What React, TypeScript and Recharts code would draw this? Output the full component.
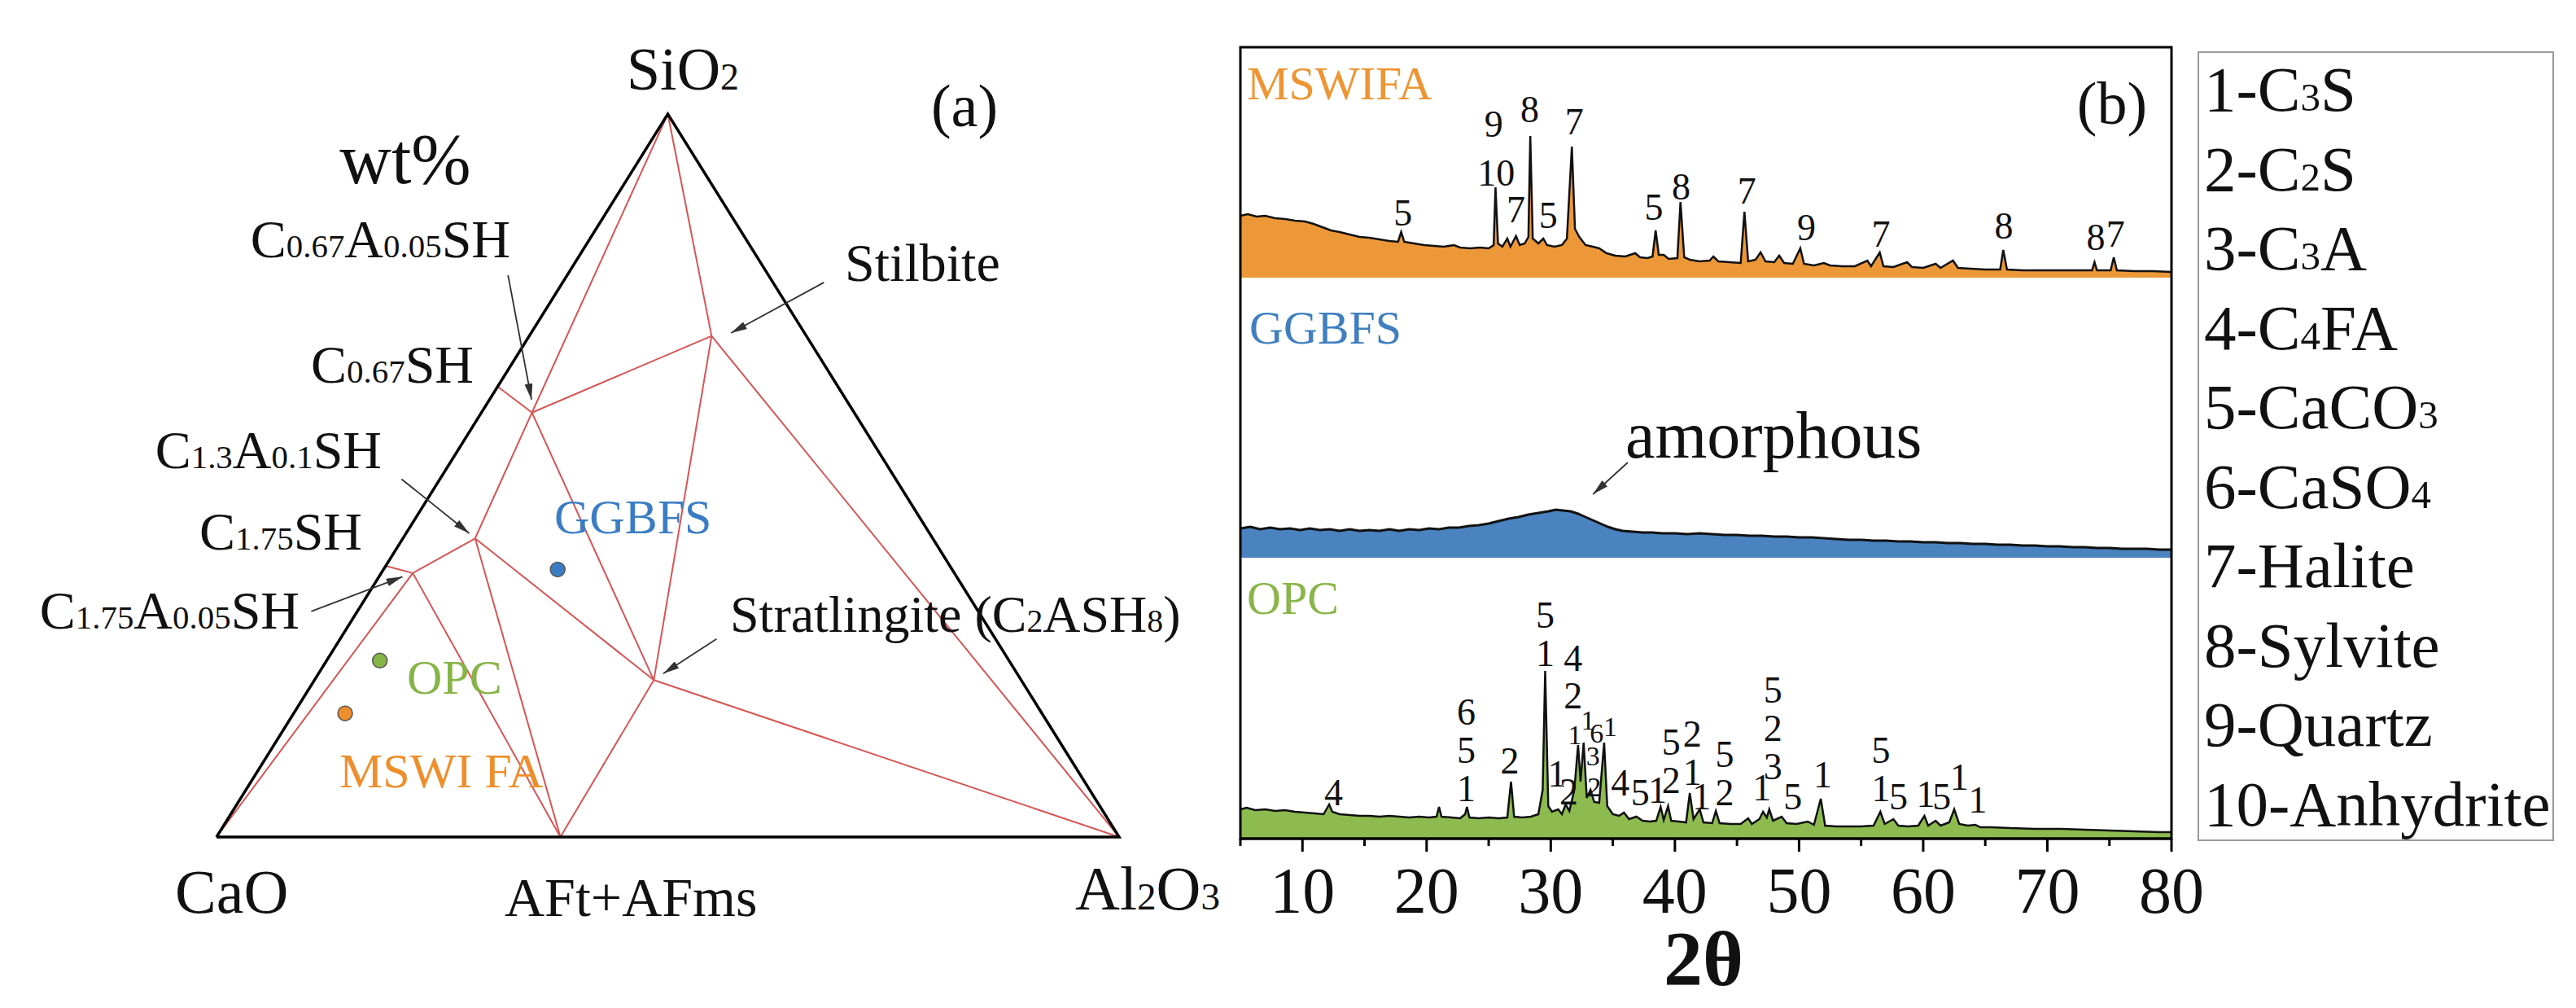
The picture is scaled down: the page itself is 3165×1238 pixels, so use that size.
import React from 'react';
import { ComposedChart, ScatterChart, Scatter, Area, Line, XAxis, YAxis } from 'recharts';

const SERIF = '"Liberation Serif", "Times New Roman", serif';

// ---------------- (a) ternary CaO - SiO2 - Al2O3 (mass fractions) ----------------
// c = CaO, s = SiO2, a = Al2O3
const CORNERS = [
  { id: 'CaO', c: 1, s: 0, a: 0 },
  { id: 'SiO2', c: 0, s: 1, a: 0 },
  { id: 'Al2O3', c: 0, s: 0, a: 1 },
];

const PHASES = [
  { id: 'Stilbite', c: 0.105, s: 0.693, a: 0.202 },
  { id: 'C0.67A0.05SH', c: 0.357, s: 0.587, a: 0.056 },
  { id: 'C0.67SH', c: 0.377, s: 0.623, a: 0 },
  { id: 'C1.3A0.1SH', c: 0.507, s: 0.413, a: 0.08 },
  { id: 'C1.75SH', c: 0.625, s: 0.375, a: 0 },
  { id: 'C1.75A0.05SH', c: 0.6, s: 0.365, a: 0.035 },
  { id: 'Stratlingite', c: 0.407, s: 0.217, a: 0.376 },
  { id: 'AFt+AFms', c: 0.619, s: 0, a: 0.381 },
];

// tie lines between phases (red)
const TIE_LINES: [string, string][] = [
  ['SiO2', 'C0.67A0.05SH'],
  ['SiO2', 'Stilbite'],
  ['C0.67SH', 'C0.67A0.05SH'],
  ['C0.67A0.05SH', 'Stilbite'],
  ['C0.67A0.05SH', 'C1.3A0.1SH'],
  ['C0.67A0.05SH', 'Stratlingite'],
  ['Stilbite', 'Stratlingite'],
  ['Stilbite', 'Al2O3'],
  ['Stratlingite', 'Al2O3'],
  ['Stratlingite', 'AFt+AFms'],
  ['C1.3A0.1SH', 'Stratlingite'],
  ['C1.3A0.1SH', 'AFt+AFms'],
  ['C1.3A0.1SH', 'C1.75A0.05SH'],
  ['C1.75SH', 'C1.75A0.05SH'],
  ['C1.75A0.05SH', 'AFt+AFms'],
  ['C1.75A0.05SH', 'CaO'],
];

const MATERIALS = [
  { id: 'GGBFS', c: 0.437, s: 0.37, a: 0.193 },
  { id: 'OPC', c: 0.697, s: 0.244, a: 0.059 },
  { id: 'MSWI FA', c: 0.772, s: 0.171, a: 0.057 },
];
const MATERIAL_COLORS: Record<string, string> = { GGBFS: '#3b7dc4', OPC: '#86b447', 'MSWI FA': '#ee8e2c' };

// leader arrows, already in diagram coordinates (x = Al + Si/2, y = Si): [tail, tip]
const TERNARY_ARROWS: [number, number][][] = [
  [[0.323, 0.777], [0.349, 0.605]],
  [[0.673, 0.767], [0.57, 0.697]],
  [[0.205, 0.495], [0.28, 0.42]],
  [[0.105, 0.312], [0.206, 0.36]],
  [[0.554, 0.274], [0.495, 0.226]],
];

// ---------------- (b) XRD patterns, [2theta, intensity a.u.] ----------------
const MSWIFA_XRD: [number, number][] = [
  [5.0, 76], [5.6, 78], [6.3, 75], [7.0, 76], [7.8, 73], [8.6, 72], [9.4, 70], [10.2, 69], [10.9, 66],
  [11.6, 62], [12.3, 58], [13.0, 56], [13.8, 53], [14.6, 50], [15.4, 49], [16.2, 47], [17.0, 45], [17.7, 44],
  [17.95, 56], [18.2, 44], [19.0, 42], [19.8, 40], [20.6, 39], [21.4, 38], [22.2, 40], [22.7, 37], [23.5, 36],
  [24.3, 37], [25.0, 36], [25.4, 40], [25.55, 111], [25.75, 42], [26.1, 38], [26.5, 48], [26.75, 38],
  [27.2, 51], [27.5, 40], [27.9, 42], [28.2, 50], [28.35, 174], [28.55, 48], [29.0, 42], [29.4, 48],
  [29.7, 40], [30.3, 38], [30.9, 40], [31.3, 48], [31.7, 161], [31.95, 60], [32.3, 50], [32.8, 40],
  [33.4, 38], [33.9, 36], [34.5, 30], [35.2, 27], [36.0, 26], [36.8, 30], [37.2, 25], [37.8, 24], [38.2, 26],
  [38.45, 58], [38.7, 28], [39.1, 28], [39.5, 23], [40.2, 24], [40.45, 93], [40.75, 25], [41.2, 22],
  [42.0, 20], [42.8, 21], [43.1, 26], [43.5, 20], [44.4, 19], [45.3, 18], [45.6, 81], [45.9, 20], [46.5, 22],
  [46.9, 31], [47.3, 20], [48.0, 19], [48.4, 27], [48.8, 18], [49.5, 17], [50.1, 36], [50.4, 17], [51.2, 15],
  [52.0, 18], [52.5, 15], [53.5, 14], [54.5, 14], [55.5, 21], [55.8, 14], [56.5, 31], [56.8, 14], [57.6, 13],
  [58.7, 19], [59.1, 13], [60.0, 12], [61.0, 17], [61.4, 12], [62.4, 21], [62.8, 12], [63.8, 11], [65.0, 10],
  [66.2, 10], [66.45, 34], [66.75, 10], [68.0, 9], [70.0, 9], [72.0, 9], [73.6, 9], [73.8, 19], [74.0, 9],
  [75.1, 9], [75.35, 25], [75.6, 9], [77.0, 8], [78.5, 8], [80.0, 7],
];

const GGBFS_XRD: [number, number][] = [
  [5.0, 36], [5.8, 38], [6.6, 35], [7.4, 37], [8.2, 35], [9.0, 36], [9.8, 34], [10.6, 36], [11.4, 34],
  [12.2, 35], [13.0, 33], [13.8, 35], [14.6, 33], [15.4, 34], [16.2, 33], [17.0, 35], [17.8, 33], [18.6, 35],
  [19.4, 34], [20.2, 36], [21.0, 35], [21.8, 37], [22.6, 37], [23.4, 39], [24.2, 40], [25.0, 42], [25.8, 45],
  [26.6, 48], [27.4, 50], [28.2, 53], [29.0, 55], [29.8, 57], [30.4, 59], [31.0, 58], [31.6, 57], [32.2, 54],
  [32.8, 50], [33.4, 46], [34.0, 42], [34.6, 38], [35.2, 35], [35.8, 33], [36.6, 32], [37.4, 31], [38.2, 31],
  [39.0, 30], [40.0, 30], [41.0, 29], [42.0, 30], [43.0, 29], [44.0, 28], [45.0, 28], [46.0, 27], [47.0, 27],
  [48.0, 26], [49.0, 26], [50.0, 25], [51.0, 25], [52.0, 24], [53.0, 23], [54.0, 22], [55.0, 22], [56.0, 21],
  [57.0, 21], [58.0, 20], [59.0, 20], [60.0, 19], [61.0, 19], [62.0, 18], [63.0, 18], [64.0, 17], [65.0, 17],
  [66.0, 16], [67.0, 16], [68.0, 15], [69.0, 15], [70.0, 14], [71.0, 14], [72.0, 13], [73.0, 13], [74.0, 12],
  [75.0, 12], [76.0, 11], [77.0, 11], [78.0, 11], [79.0, 10], [80.0, 10],
];

const OPC_XRD: [number, number][] = [
  [5.0, 36], [5.5, 38], [6.2, 35], [7.0, 36], [7.8, 34], [8.6, 35], [9.4, 33], [10.2, 32], [11.0, 31],
  [11.7, 30], [12.0, 38], [12.15, 42], [12.4, 33], [13.0, 30], [13.8, 29], [14.6, 28], [15.4, 28], [16.2, 27],
  [17.0, 28], [17.8, 27], [18.6, 26], [19.4, 27], [20.2, 26], [20.8, 27], [21.0, 39], [21.2, 27], [22.0, 26],
  [22.7, 25], [23.1, 30], [23.25, 39], [23.45, 26], [24.2, 25], [25.0, 26], [25.8, 25], [26.5, 26], [26.8, 70],
  [27.05, 27], [27.7, 26], [28.4, 27], [29.0, 30], [29.35, 60], [29.55, 206], [29.8, 40], [30.1, 33],
  [30.6, 36], [30.9, 30], [31.2, 42], [31.5, 34], [31.9, 60], [32.2, 115], [32.4, 70], [32.65, 118],
  [32.9, 50], [33.2, 60], [33.5, 45], [33.9, 44], [34.3, 118], [34.55, 40], [35.0, 30], [35.5, 28], [35.9, 32],
  [36.3, 24], [36.9, 27], [37.4, 22], [38.0, 21], [38.5, 22], [38.85, 39], [39.1, 23], [39.45, 40], [39.7, 22],
  [40.3, 21], [40.9, 20], [41.2, 56], [41.5, 24], [42.0, 36], [42.3, 20], [43.0, 19], [43.3, 34], [43.6, 19],
  [44.5, 18], [45.3, 18], [45.9, 25], [46.2, 18], [46.8, 24], [47.1, 33], [47.4, 26], [47.6, 36], [47.9, 22],
  [48.6, 27], [49.0, 19], [49.8, 18], [50.7, 21], [51.2, 17], [51.75, 49], [52.1, 16], [53.0, 15], [54.0, 15],
  [55.0, 15], [56.0, 16], [56.55, 33], [56.9, 18], [57.6, 24], [58.0, 16], [58.8, 15], [59.6, 16], [60.1, 28],
  [60.4, 16], [61.0, 22], [61.4, 16], [62.1, 20], [62.5, 36], [62.9, 18], [63.6, 16], [64.2, 17], [64.6, 14],
  [65.5, 14], [67.0, 13], [69.0, 12], [71.0, 12], [73.0, 11], [75.0, 10], [77.0, 9], [79.0, 8], [80.0, 8],
];

// vertical stacking offsets of the three patterns
const OFFSETS = { OPC: 0, GGBFS: 345, MSWIFA: 689 };

// phase labels above peaks: 2theta, height (a.u. above its pattern), text ('/' stacks lines, bottom last)
type PeakTag = { t: number; h: number; text: string };
const MSWIFA_TAGS: PeakTag[] = [
  { t: 18.1, h: 64, text: '5' }, { t: 25.4, h: 173, text: '9' }, { t: 25.6, h: 113, text: '10' },
  { t: 27.2, h: 68, text: '7' }, { t: 28.3, h: 191, text: '8' }, { t: 29.8, h: 61, text: '5' },
  { t: 31.9, h: 176, text: '7' }, { t: 38.3, h: 71, text: '5' }, { t: 40.5, h: 96, text: '8' },
  { t: 45.8, h: 91, text: '7' }, { t: 50.6, h: 46, text: '9' }, { t: 56.6, h: 38, text: '7' },
  { t: 66.5, h: 48, text: '8' }, { t: 73.9, h: 34, text: '8' }, { t: 75.5, h: 38, text: '7' },
];
const OPC_TAGS: PeakTag[] = [
  { t: 12.5, h: 41, text: '4' }, { t: 23.2, h: 46, text: '6/5/1' }, { t: 26.7, h: 80, text: '2' },
  { t: 29.55, h: 212, text: '5/1' }, { t: 30.5, h: 64, text: '1' }, { t: 31.45, h: 42, text: '2' },
  { t: 31.8, h: 206, text: '4' }, { t: 31.8, h: 160, text: '2' },
  { t: 35.6, h: 53, text: '4' }, { t: 37.2, h: 41, text: '5' }, { t: 38.6, h: 44, text: '1' },
  { t: 39.7, h: 56, text: '5/2' }, { t: 41.4, h: 66, text: '2/1' }, { t: 42.15, h: 36, text: '1' },
  { t: 44.0, h: 41, text: '5/2' }, { t: 47.0, h: 47, text: '1' }, { t: 47.9, h: 73, text: '5/2/3' },
  { t: 49.5, h: 36, text: '5' }, { t: 51.9, h: 63, text: '1' }, { t: 56.6, h: 46, text: '5/1' },
  { t: 58.0, h: 36, text: '5' }, { t: 60.2, h: 39, text: '1' }, { t: 61.5, h: 36, text: '5' },
  { t: 62.9, h: 60, text: '1' }, { t: 64.4, h: 32, text: '1' },
];
// the crowded 32-34 degree group is lettered smaller
const OPC_SMALL_TAGS: PeakTag[] = [
  { t: 31.95, h: 116, text: '1' }, { t: 33.0, h: 134, text: '1' }, { t: 33.7, h: 118, text: '6' },
  { t: 34.8, h: 126, text: '1' }, { t: 33.4, h: 90, text: '3' }, { t: 33.5, h: 52, text: '2' },
];

// "amorphous" leader: [2theta, a.u.] tail -> tip
const AMORPHOUS_ARROW = [{ t: 36.2, v: 462 }, { t: 33.4, v: 423 }];

const TWO_THETA_TICKS = [5, 10, 15, 20, 25, 30, 35, 40, 45, 50, 55, 60, 65, 70, 75, 80];

const LEGEND_ITEMS = ['1-C{3}S', '2-C{2}S', '3-C{3}A', '4-C{4}FA', '5-CaCO{3}', '6-CaSO{4}', '7-Halite', '8-Sylvite', '9-Quartz', '10-Anhydrite'];

// ------------------------------------------------------------------------

const toXY = (p: { c: number; s: number; a: number }) => ({ x: p.a + p.s / 2, y: p.s });
const NODES = [...CORNERS, ...PHASES];
const nodeXY = (id: string) => toXY(NODES.find(n => n.id === id)!);

const rows = (pts: [number, number][], off: number) =>
  pts.map(([t, h]) => ({ t, band: [off, off + h], top: off + h }));

const tagRows = (tags: PeakTag[], off: number) => tags.map(p => ({ t: p.t, v: off + p.h, text: p.text }));

const Chem = ({ f, x, y, size, anchor = 'start', fill = '#111', weight = 'normal' }: any) => {
  const parts: string[] = f.split(/(\{[^}]*\})/).filter(Boolean);
  return (
    <text x={x} y={y} fontSize={size} fontFamily={SERIF} textAnchor={anchor} fill={fill} fontWeight={weight}>
      {parts.map((p, i) =>
        p.startsWith('{') ? (
          <tspan key={i} fontSize={size * 0.62}>{p.slice(1, -1)}</tspan>
        ) : (
          <tspan key={i}>{p}</tspan>
        )
      )}
    </text>
  );
};

const Nothing = () => <g />;

const makeTagShape = (size: number) => (props: any) => {
  const { cx, cy, payload } = props;
  const lines = String(payload.text).split('/');
  return (
    <g>
      {lines.map((l, i) => (
        <text key={i} x={cx} y={cy - (lines.length - 1 - i) * 47} textAnchor="middle" fontSize={size} fontFamily={SERIF} fill="#111">
          {l}
        </text>
      ))}
    </g>
  );
};
const TagShape = makeTagShape(46);
const SmallTagShape = makeTagShape(34);

const TwoThetaTick = (props: any) => {
  const { x, y, payload } = props;
  const major = payload.value % 10 === 0;
  return (
    <g>
      <line x1={x} x2={x} y1={y} y2={y + (major ? 16 : 9)} stroke="#000" strokeWidth={3} />
      {major && (
        <text x={x} y={y + 91} textAnchor="middle" fontSize={80} fontFamily={SERIF} fill="#111">
          {payload.value}
        </text>
      )}
    </g>
  );
};

const TernaryPanel = () => (
  <div style={{ position: 'absolute', left: 246, top: 120 }}>
    <ScatterChart width={1149} height={928} margin={{ top: 20, right: 20, bottom: 20, left: 20 }}>
      <defs>
        <marker id="arrowTern" viewBox="0 0 20 10" refX="20" refY="5" markerWidth="11" markerHeight="5.5" orient="auto">
          <path d="M0,0 L20,5 L0,10 z" fill="#333" />
        </marker>
      </defs>
      <XAxis type="number" dataKey="x" domain={[0, 1]} hide />
      <YAxis type="number" dataKey="y" domain={[0, 1]} hide />
      {TIE_LINES.map(([a, b], i) => (
        <Scatter
          key={`tie-${i}`}
          data={[nodeXY(a), nodeXY(b)]}
          line={{ stroke: '#d65555', strokeWidth: 2 }}
          shape={Nothing}
          isAnimationActive={false}
        />
      ))}
      <Scatter
        data={[nodeXY('CaO'), nodeXY('SiO2'), nodeXY('Al2O3'), nodeXY('CaO')]}
        line={{ stroke: '#000', strokeWidth: 3.5, strokeLinejoin: 'miter' }}
        shape={Nothing}
        isAnimationActive={false}
      />
      {TERNARY_ARROWS.map(([tail, tip], i) => (
        <Scatter
          key={`arr-${i}`}
          data={[{ x: tail[0], y: tail[1] }, { x: tip[0], y: tip[1] }]}
          line={{ stroke: '#333', strokeWidth: 1.8, markerEnd: 'url(#arrowTern)' }}
          shape={Nothing}
          isAnimationActive={false}
        />
      ))}
      {MATERIALS.map(m => (
        <Scatter
          key={m.id}
          data={[toXY(m)]}
          fill={MATERIAL_COLORS[m.id]}
          stroke="#555"
          strokeWidth={1.5}
          shape={(p: any) => <circle cx={p.cx} cy={p.cy} r={9} fill={MATERIAL_COLORS[m.id]} stroke="#555" strokeWidth={1.5} />}
          isAnimationActive={false}
        />
      ))}
    </ScatterChart>
  </div>
);

const XrdPanel = () => (
  <div style={{ position: 'absolute', left: 1504, top: 58 }}>
    <ComposedChart width={1224} height={1092} margin={{ top: 0, right: 60, bottom: 0, left: 20 }}>
      <defs>
        <marker id="arrowXrd" viewBox="0 0 20 10" refX="20" refY="5" markerWidth="11" markerHeight="5.5" orient="auto">
          <path d="M0,0 L20,5 L0,10 z" fill="#333" />
        </marker>
      </defs>
      <XAxis
        type="number"
        dataKey="t"
        domain={[5, 80]}
        ticks={TWO_THETA_TICKS}
        interval={0}
        height={120}
        tickSize={0}
        tickMargin={0}
        tickLine={false}
        axisLine={{ stroke: '#000', strokeWidth: 3 }}
        tick={TwoThetaTick}
        allowDataOverflow
      />
      <YAxis type="number" dataKey="v" domain={[0, 972]} hide allowDataOverflow />
      <Area data={rows(MSWIFA_XRD, OFFSETS.MSWIFA)} dataKey="band" type="linear" fill="#ed9838" fillOpacity={1} stroke="none" isAnimationActive={false} />
      <Area data={rows(GGBFS_XRD, OFFSETS.GGBFS)} dataKey="band" type="linear" fill="#4a83bf" fillOpacity={1} stroke="none" isAnimationActive={false} />
      <Area data={rows(OPC_XRD, OFFSETS.OPC)} dataKey="band" type="linear" fill="#8dbb4f" fillOpacity={1} stroke="none" isAnimationActive={false} />
      <Line data={rows(MSWIFA_XRD, OFFSETS.MSWIFA)} dataKey="top" type="linear" stroke="#111" strokeWidth={2.5} dot={false} activeDot={false} isAnimationActive={false} />
      <Line data={rows(GGBFS_XRD, OFFSETS.GGBFS)} dataKey="top" type="linear" stroke="#111" strokeWidth={3} dot={false} activeDot={false} isAnimationActive={false} />
      <Line data={rows(OPC_XRD, OFFSETS.OPC)} dataKey="top" type="linear" stroke="#111" strokeWidth={2.5} dot={false} activeDot={false} isAnimationActive={false} />
      <Line
        data={AMORPHOUS_ARROW}
        dataKey="v"
        type="linear"
        stroke="#333"
        strokeWidth={1.8}
        markerEnd="url(#arrowXrd)"
        dot={false}
        activeDot={false}
        isAnimationActive={false}
      />
      <Scatter data={tagRows(MSWIFA_TAGS, OFFSETS.MSWIFA)} dataKey="v" shape={TagShape} isAnimationActive={false} />
      <Scatter data={tagRows(OPC_TAGS, OFFSETS.OPC)} dataKey="v" shape={TagShape} isAnimationActive={false} />
      <Scatter data={tagRows(OPC_SMALL_TAGS, OFFSETS.OPC)} dataKey="v" shape={SmallTagShape} isAnimationActive={false} />
    </ComposedChart>
  </div>
);

const Annotations = () => (
  <svg width={3165} height={1238} style={{ position: 'absolute', left: 0, top: 0, pointerEvents: 'none' }}>
    {/* panel (a) */}
    <Chem f="SiO{2}" x={839} y={110} size={74} anchor="middle" />
    <Chem f="(a)" x={1185} y={155} size={74} anchor="middle" />
    <Chem f="wt%" x={498} y={225} size={88} anchor="middle" />
    <Chem f="C{0.67}A{0.05}SH" x={627} y={316} size={66} anchor="end" />
    <Chem f="Stilbite" x={1038} y={345} size={66} />
    <Chem f="C{0.67}SH" x={582} y={470} size={66} anchor="end" />
    <Chem f="C{1.3}A{0.1}SH" x={469} y={575} size={66} anchor="end" />
    <Chem f="C{1.75}SH" x={445} y={675} size={66} anchor="end" />
    <Chem f="C{1.75}A{0.05}SH" x={368} y={772} size={66} anchor="end" />
    <Chem f="Stratlingite (C{2}ASH{8})" x={897} y={776} size={64} />
    <Chem f="GGBFS" x={681} y={655} size={60} fill="#3b7dc4" />
    <Chem f="OPC" x={500} y={852} size={60} fill="#86b447" />
    <Chem f="MSWI FA" x={417} y={967} size={60} fill="#ee8e2c" />
    <Chem f="CaO" x={215} y={1121} size={76} />
    <Chem f="AFt+AFms" x={620} y={1125} size={68} />
    <Chem f="Al{2}O{3}" x={1321} y={1117} size={76} />

    {/* panel (b) */}
    <rect x={1524} y={58} width={1144} height={972} fill="none" stroke="#000" strokeWidth={3} />
    <Chem f="MSWIFA" x={1532} y={122} size={58} fill="#ee9533" />
    <Chem f="GGBFS" x={1535} y={422} size={58} fill="#3f7fc0" />
    <Chem f="OPC" x={1532} y={754} size={58} fill="#8ab54a" />
    <Chem f="(b)" x={2595} y={152} size={74} anchor="middle" />
    <Chem f="amorphous" x={1997} y={562} size={82} />
    <Chem f="2θ" x={2093} y={1210} size={96} anchor="middle" weight="bold" />

    {/* phase key */}
    <rect x={2701} y={64} width={436} height={968} fill="#fff" stroke="#9a9a9a" strokeWidth={2} />
    {LEGEND_ITEMS.map((f, i) => (
      <Chem key={f} f={f} x={2708} y={136 + i * 97.5} size={79} />
    ))}
  </svg>
);

export default function App() {
  return (
    <div style={{ position: 'absolute', left: 0, top: 0, width: 3165, height: 1238, background: '#fff', overflow: 'hidden' }}>
      <TernaryPanel />
      <XrdPanel />
      <Annotations />
    </div>
  );
}
